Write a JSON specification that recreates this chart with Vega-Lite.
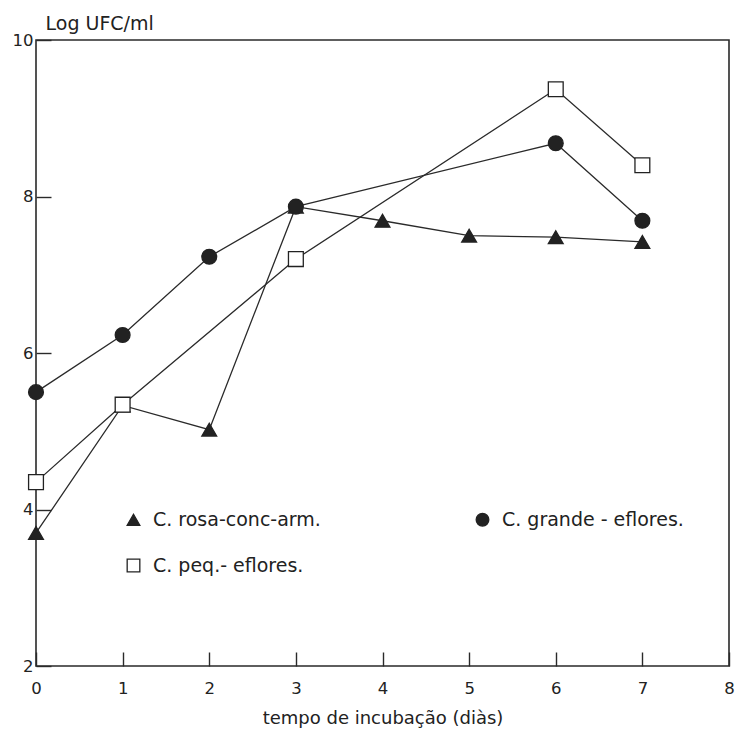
{
  "$schema": "https://vega.github.io/schema/vega-lite/v6.json",
  "width": 693,
  "height": 626,
  "autosize": "none",
  "padding": {"left": 36, "top": 40, "right": 7, "bottom": 67},
  "background": "white",
  "config": {
    "view": {"stroke": "#2a2a2a", "strokeWidth": 1.6},
    "font": "DejaVu Sans",
    "axis": {"grid": false, "domain": false, "tickColor": "#2a2a2a", "tickWidth": 1.4, "labelColor": "#222", "titleColor": "#222", "labelFont": "DejaVu Sans", "titleFont": "DejaVu Sans", "titleFontWeight": "normal"}
  },
  "data": {
    "values": [
      {"serie": "C. rosa-conc-arm.", "dia": 0, "logufc": 3.70},
      {"serie": "C. rosa-conc-arm.", "dia": 1, "logufc": 5.33},
      {"serie": "C. rosa-conc-arm.", "dia": 2, "logufc": 5.02},
      {"serie": "C. rosa-conc-arm.", "dia": 3, "logufc": 7.87},
      {"serie": "C. rosa-conc-arm.", "dia": 4, "logufc": 7.69},
      {"serie": "C. rosa-conc-arm.", "dia": 5, "logufc": 7.50},
      {"serie": "C. rosa-conc-arm.", "dia": 6, "logufc": 7.48},
      {"serie": "C. rosa-conc-arm.", "dia": 7, "logufc": 7.42},
      {"serie": "C. grande - eflores.", "dia": 0, "logufc": 5.50},
      {"serie": "C. grande - eflores.", "dia": 1, "logufc": 6.23},
      {"serie": "C. grande - eflores.", "dia": 2, "logufc": 7.23},
      {"serie": "C. grande - eflores.", "dia": 3, "logufc": 7.87},
      {"serie": "C. grande - eflores.", "dia": 6, "logufc": 8.68},
      {"serie": "C. grande - eflores.", "dia": 7, "logufc": 7.69},
      {"serie": "C. peq.- eflores.", "dia": 0, "logufc": 4.35},
      {"serie": "C. peq.- eflores.", "dia": 1, "logufc": 5.34},
      {"serie": "C. peq.- eflores.", "dia": 3, "logufc": 7.20},
      {"serie": "C. peq.- eflores.", "dia": 6, "logufc": 9.37},
      {"serie": "C. peq.- eflores.", "dia": 7, "logufc": 8.40}
    ]
  },
  "encoding": {
    "x": {
      "field": "dia", "type": "quantitative",
      "scale": {"domain": [0, 8], "nice": false, "zero": false},
      "axis": {"values": [0, 1, 2, 3, 4, 5, 6, 7, 8], "offset": -14, "tickSize": 14, "labelPadding": 14, "labelFontSize": 16.5, "labelFlush": false, "title": "tempo de incubação (diàs)", "titleFontSize": 18, "titlePadding": 13}
    },
    "y": {
      "field": "logufc", "type": "quantitative",
      "scale": {"domain": [2, 10], "nice": false, "zero": false},
      "axis": {"values": [2, 4, 6, 8, 10], "offset": -15, "tickSize": 15, "labelPadding": 3, "labelFontSize": 16.5, "labelFlush": false, "title": "Log UFC/ml", "titleFontSize": 19, "titleAngle": 0, "titleAlign": "left", "titleBaseline": "middle", "titleX": -6, "titleY": -17}
    }
  },
  "layer": [
    {
      "mark": {"type": "line", "color": "#2a2a2a", "strokeWidth": 1.3},
      "encoding": {"detail": {"field": "serie"}}
    },
    {
      "mark": {"type": "point", "filled": false, "color": "#222", "strokeWidth": 1.3, "opacity": 1, "size": 220},
      "encoding": {
        "shape": {"field": "serie", "type": "nominal", "scale": {"domain": ["C. rosa-conc-arm.", "C. grande - eflores.", "C. peq.- eflores."], "range": ["triangle-up", "circle", "square"]}, "legend": {"title": null, "orient": "none", "legendX": 88, "legendY": 470, "direction": "horizontal", "columns": 2, "columnPadding": 152, "rowPadding": 26, "labelFontSize": 19, "labelLimit": 400, "labelColor": "#222", "labelFont": "DejaVu Sans", "symbolSize": 160, "symbolStrokeWidth": 1.3, "labelOffset": 10, "padding": 0}},
        "fill": {"field": "serie", "type": "nominal", "scale": {"domain": ["C. rosa-conc-arm.", "C. grande - eflores.", "C. peq.- eflores."], "range": ["#222", "#222", "white"]}, "legend": {"title": null, "orient": "none", "legendX": 88, "legendY": 470, "direction": "horizontal", "columns": 2, "columnPadding": 152, "rowPadding": 26, "labelFontSize": 19, "labelLimit": 400, "labelColor": "#222", "labelFont": "DejaVu Sans", "symbolSize": 160, "symbolStrokeWidth": 1.3, "labelOffset": 10, "padding": 0}}
      }
    }
  ]
}
